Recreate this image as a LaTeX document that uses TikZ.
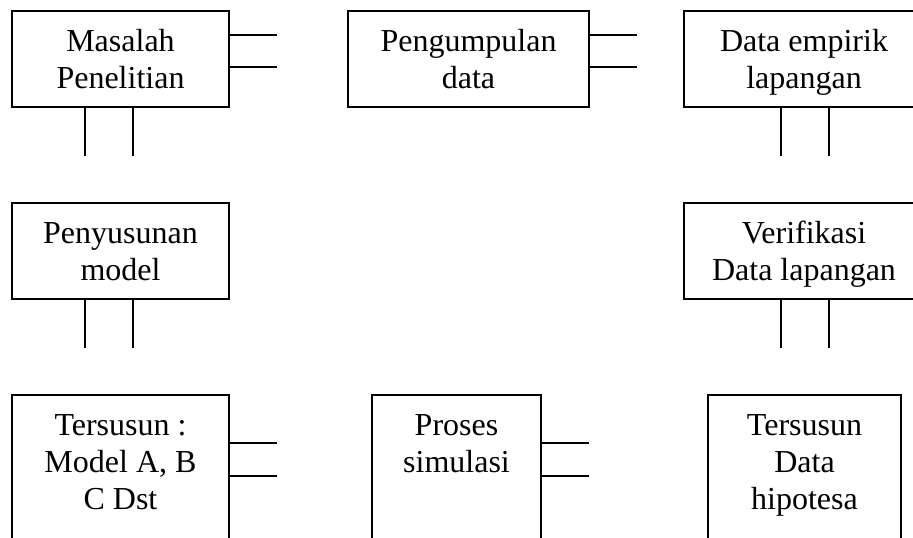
\documentclass[tikz,border=0pt]{standalone}
\usepackage{fontspec}
\setmainfont{Liberation Serif}
\usepackage{tikz}
\usetikzlibrary{calc}
\tikzset{
  box/.style={draw=black, line width=0.9pt, inner sep=0pt, outer sep=0pt,
    align=flush center, anchor=north west, text height=30pt,
    font=\fontsize{24}{27.75}\selectfont},
  shortbox/.style={box, text depth=42pt},
  tallbox/.style={box, text depth=90pt},
  stub/.style={draw=black, line width=0.8pt}
}
\begin{document}
\begin{tikzpicture}[x=0.75pt, y=-0.75pt]
  % page: 913 x 537 px, 1 unit = 1 px
  \useasboundingbox (0,0) rectangle (913,537);
  \clip (0,0) rectangle (913,537);

  % top row
  \node[shortbox, text width=162.75pt] (masalah) at (12,11) {Masalah\\Penelitian};
  \node[shortbox, text width=180.75pt] (kumpul) at (348,11) {Pengumpulan\\data};
  \node[shortbox, text width=180pt] (empirik) at (684,11) {Data empirik\\lapangan};

  % middle row
  \node[shortbox, text width=162.75pt] (susun) at (12,203) {Penyusunan\\model};
  \node[shortbox, text width=180pt] (verif) at (684,203) {Verifikasi\\Data lapangan};

  % bottom row (runs past the page edge)
  \node[tallbox, text width=162.75pt] (model) at (12,395) {Tersusun :\\Model A, B\\C Dst};
  \node[tallbox, text width=126.75pt] (proses) at (372,395) {Proses\\simulasi};
  \node[tallbox, text width=144.75pt] (hipo) at (708,395) {Tersusun\\Data\\hipotesa};

  % stubs going right
  \foreach \d in {24,56} {
    \draw[stub] ($(masalah.north east)+(0,\d)$) -- ++(48,0);
    \draw[stub] ($(kumpul.north east)+(0,\d)$) -- ++(48,0);
  }
  \foreach \d in {48,81} {
    \draw[stub] ($(model.north east)+(0,\d)$) -- ++(48,0);
    \draw[stub] ($(proses.north east)+(0,\d)$) -- ++(48,0);
  }

  % stubs going down
  \foreach \d in {73,121} {
    \draw[stub] ($(masalah.south west)+(\d,0)$) -- ++(0,49);
    \draw[stub] ($(susun.south west)+(\d,0)$) -- ++(0,49);
  }
  \foreach \d in {97,145} {
    \draw[stub] ($(empirik.south west)+(\d,0)$) -- ++(0,49);
    \draw[stub] ($(verif.south west)+(\d,0)$) -- ++(0,49);
  }
\end{tikzpicture}
\end{document}
